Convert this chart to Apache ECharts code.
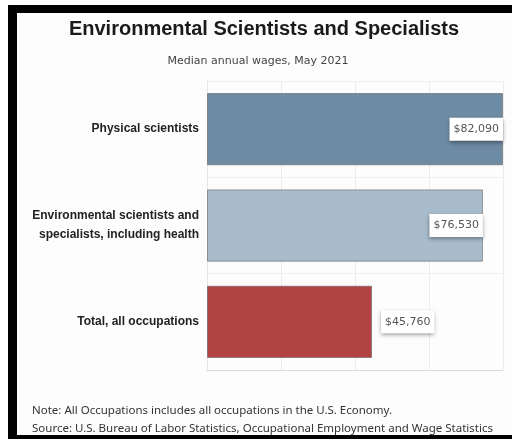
<!DOCTYPE html>
<html>
<head>
<meta charset="utf-8">
<script src="https://cdn.jsdelivr.net/npm/echarts@6/dist/echarts.min.js"></script>
<style>
html, body { margin: 0; padding: 0; background: #fff; overflow: hidden; }
#frame { position: relative; width: 512px; height: 441px; background: #fff; }
#border { position: absolute; left: 8px; top: 5px; width: 504px; height: 434px; background: #000; }
#paper { position: absolute; left: 17px; top: 13px; width: 495px; height: 422px; background: #fdfdfd; }
#container { position: absolute; left: 0; top: 0; width: 512px; height: 441px; }
</style>
</head>
<body>
<div id="frame">
  <div id="border"></div>
  <div id="paper"></div>
  <div id="container"></div>
</div>
<script>
// chart data
var categories = ['Physical scientists', 'Environmental scientists and\nspecialists, including health', 'Total, all occupations'];
var wages = [82090, 76530, 45760];
var barColors = ['#6d8ba3', '#a9bccb', '#b24343'];

var dom = document.getElementById('container');
var myChart = echarts.init(dom, null, { renderer: 'canvas' });

var seriesData = [];
for (var i = 0; i < wages.length; i += 1) {
  seriesData.push({
    value: wages[i],
    itemStyle: { color: barColors[i] },
    label: i < 2 ? { position: 'insideRight', distance: 0 } : { position: 'right', distance: 9 }
  });
}

var axisMax = Math.max.apply(Math, wages);

myChart.setOption({
  backgroundColor: 'transparent',
  animation: false,
  title: [{
    text: 'Environmental Scientists and Specialists',
    left: 259,
    top: 14,
    textAlign: 'center',
    textStyle: { fontFamily: 'Liberation Sans', fontWeight: 'bold', fontSize: 20, color: '#1a1a1a' }
  }, {
    text: 'Median annual wages, May 2021',
    left: 253,
    top: 51,
    textAlign: 'center',
    textStyle: { fontFamily: 'DejaVu Sans', fontWeight: 'normal', fontSize: 11, color: '#444' }
  }],
  grid: { left: 207, right: 9, top: 81, bottom: 71 },
  xAxis: {
    type: 'value',
    min: 0,
    max: axisMax,
    interval: axisMax / 4,
    axisLabel: { show: false },
    axisTick: { show: false },
    axisLine: { show: true, lineStyle: { color: '#d8d8d8' } },
    splitLine: { show: true, lineStyle: { color: '#ececec' } }
  },
  yAxis: {
    type: 'category',
    data: categories,
    inverse: true,
    axisTick: { show: false },
    axisLine: { show: true, lineStyle: { color: '#e6e6e6' } },
    splitLine: { show: true, lineStyle: { color: '#efefef' } },
    axisLabel: {
      margin: 8,
      fontFamily: 'Liberation Sans',
      fontWeight: 'bold',
      fontSize: 12,
      lineHeight: 19,
      color: '#222'
    }
  },
  series: [{
    type: 'bar',
    data: seriesData,
    barCategoryGap: '25%',
    itemStyle: { borderColor: 'rgba(90,90,90,0.55)', borderWidth: 1 },
    label: {
      show: true,
      formatter: function (p) { return '$' + p.value.toLocaleString('en-US'); },
      fontFamily: 'DejaVu Sans',
      fontSize: 11,
      color: '#555',
      backgroundColor: '#fff',
      padding: [6, 4, 6, 4],
      shadowBlur: 4,
      shadowColor: 'rgba(0,0,0,0.35)',
      shadowOffsetY: 2
    }
  }],
  graphic: [{
    type: 'text',
    left: 32,
    top: 402,
    style: {
      text: 'Note: All Occupations includes all occupations in the U.S. Economy.\nSource: U.S. Bureau of Labor Statistics, Occupational Employment and Wage Statistics',
      font: '11.5px "Noto Sans"',
      lineHeight: 18,
      fill: '#333'
    }
  }]
});
</script>
</body>
</html>
